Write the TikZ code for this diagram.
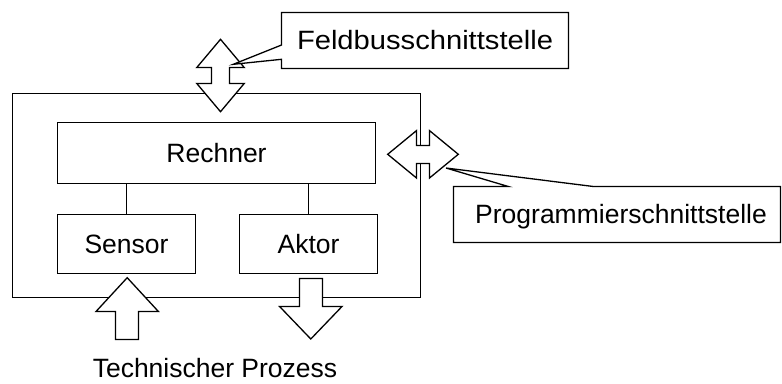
\documentclass[tikz,border=0pt]{standalone}
\usepackage{fontspec}
\usepackage{graphicx}
\setmainfont{Liberation Sans}
\begin{document}
\begin{tikzpicture}[x=1pt,y=-1pt,
  line width=1.3pt, line join=miter,
  every node/.style={font=\fontsize{26.5}{30}\selectfont, inner sep=0pt},
  block/.style={draw, rectangle},
  flow/.style={draw, fill=white},
  callout/.style={draw, fill=white},
  label/.style={anchor=base}]
\useasboundingbox (0,0) rectangle (782,383);

% device frame and its parts
\node[block, minimum width=408pt, minimum height=204pt] (geraet) at (216.5,195.5) {};
\node[block, minimum width=318pt, minimum height=61pt] (rechner) at (216.5,153) {};
\node[label] (rechnertext) at (216.5,162.5) {Rechner};
\node[block, minimum width=138pt, minimum height=59pt] (sensor) at (126.5,244) {};
\node[label] (sensortext) at (126.5,253.3) {Sensor};
\node[block, minimum width=138pt, minimum height=59pt] (aktor) at (308.5,244) {};
\node[label] (aktortext) at (308.5,253.3) {Aktor};
\draw (rechner.south -| sensor.north) -- (sensor.north);
\draw (rechner.south -| aktor.north) -- (aktor.north);

% fieldbus interface (vertical double arrow)
\draw[flow] (220.5,39.3) -- (244.2,67.5) -- (229.5,67.5) -- (229.5,83.5) -- (244.2,83.5)
  -- (220.5,111.7) -- (196.8,83.5) -- (211.5,83.5) -- (211.5,67.5) -- (196.8,67.5) -- cycle;

% programming interface (horizontal double arrow)
\draw[flow] (387.7,154.3) -- (416.5,130.6) -- (416.5,145.5) -- (429.5,145.5) -- (429.5,130.6)
  -- (458.3,154.3) -- (429.5,178) -- (429.5,163.5) -- (416.5,163.5) -- (416.5,178) -- cycle;

% process input (up) and output (down)
\draw[flow] (127.2,277.7) -- (158.4,311.5) -- (138.5,311.5) -- (138.5,339.5) -- (115.5,339.5)
  -- (115.5,311.5) -- (96,311.5) -- cycle;
\draw[flow] (299.5,278.5) -- (322.5,278.5) -- (322.5,306.5) -- (342,306.5) -- (310.8,339)
  -- (279.6,306.5) -- (299.5,306.5) -- cycle;

% callouts
\draw[callout] (281.5,12.5) -- (568.5,12.5) -- (568.5,68.5) -- (281.5,68.5) -- (281.5,59.3)
  -- (233.3,64.3) -- (281.5,45) -- cycle;
\node[label] (feldbus) at (425,49.8) {\scalebox{1.1}[1]{Feldbusschnittstelle}};

\draw[callout] (453.5,186.5) -- (508.3,186.5) -- (446,168) -- (593.3,186.5) -- (780.5,186.5)
  -- (780.5,242.5) -- (453.5,242.5) -- cycle;
\node[label] (prog) at (621,223.3) {Programmierschnittstelle};

\node[label] (prozess) at (215,377) {Technischer Prozess};
\end{tikzpicture}
\end{document}
